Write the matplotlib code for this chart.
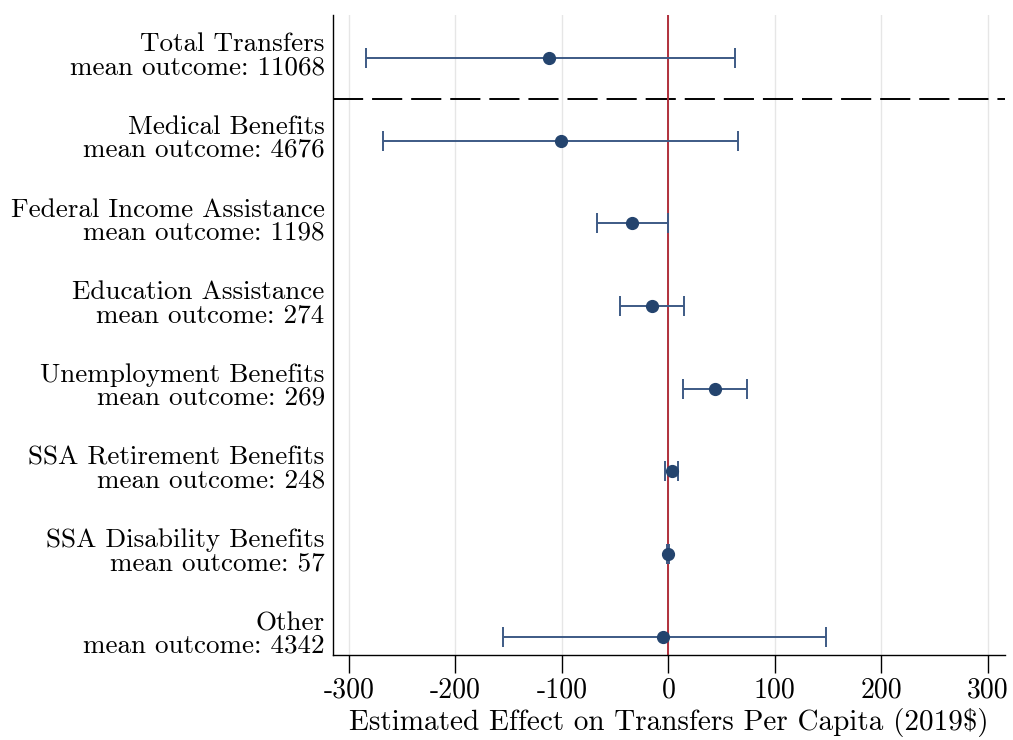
import matplotlib
matplotlib.use("Agg")
import matplotlib.pyplot as plt

# outcome labels and estimates (2019$ per capita)
outcomes = ["Total Transfers", "Medical Benefits", "Federal Income Assistance",
            "Education Assistance", "Unemployment Benefits", "SSA Retirement Benefits",
            "SSA Disability Benefits", "Other"]
mean_outcome = [11068, 4676, 1198, 274, 269, 248, 57, 4342]
estimate = [-112, -101, -34, -15, 44, 3, 0, -5]
ci_low = [-284, -268, -67, -45, 14, -3, -1, -155]
ci_high = [63, 65, 0, 15, 74, 9, 1, 148]
xticks = [-300, -200, -100, 0, 100, 200, 300]

plt.rcParams["font.family"] = "cmr10"
plt.rcParams["axes.unicode_minus"] = False
plt.rcParams["axes.formatter.use_mathtext"] = True

fig = plt.figure(figsize=(10.13, 7.4), dpi=100)
ax = fig.add_axes([0.3287, 0.1149, 0.992 - 0.3287, 0.9797 - 0.1149])

ypos = list(range(len(outcomes)))
xerr = [[e - lo for e, lo in zip(estimate, ci_low)],
        [hi - e for e, hi in zip(estimate, ci_high)]]

ax.axvline(0, color="#b0303c", lw=1.4, zorder=2)
ax.errorbar(estimate, ypos, xerr=xerr, fmt="none", ecolor="#3d5a85",
            elinewidth=1.4, capsize=7, capthick=1.4, zorder=3)
ax.plot(estimate, ypos, "o", color="#24446e", ms=8.5, zorder=4)

# separator between total and components
ax.axhline(0.5, color="black", lw=1.4, dashes=(15.5, 4.6), zorder=1)

ax.set_xlim(-315, 316)
ax.set_ylim(len(outcomes) - 1 + 0.22, -0.52)
ax.set_xticks(xticks)
ax.set_xticklabels([str(t) for t in xticks])
ax.grid(axis="x", color="#e6e6e6", lw=1.0)
ax.set_axisbelow(True)

# labels sit slightly above their marker row (ticks are hidden)
ax.set_yticks([y - 0.05 for y in ypos])
ax.set_yticklabels([f"{o}\nmean outcome: {m}" for o, m in zip(outcomes, mean_outcome)],
                   fontsize=19.5, linespacing=0.95)
ax.tick_params(axis="y", length=0, pad=6)
ax.tick_params(axis="x", length=13, width=1.0, labelsize=20, pad=3)

ax.spines["top"].set_visible(False)
ax.spines["right"].set_visible(False)
for s in ["left", "bottom"]:
    ax.spines[s].set_linewidth(1.0)

ax.set_xlabel("Estimated Effect on Transfers Per Capita (2019$)", fontsize=21, labelpad=3)

fig.savefig("out.png", dpi=100)
